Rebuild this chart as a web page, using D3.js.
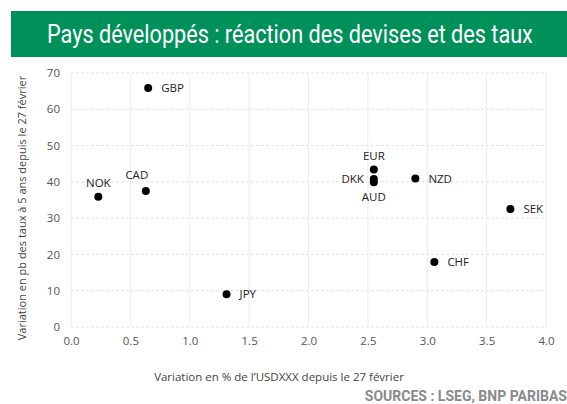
<!DOCTYPE html>
<html><head><meta charset="utf-8">
<script src="https://cdn.jsdelivr.net/npm/d3@7"></script>
<style>body{margin:0;background:#fff}svg{display:block}</style>
</head><body>
<script>
const currencies = ["GBP","NOK","CAD","JPY","EUR","DKK","AUD","NZD","SEK","CHF"];
const fxChange   = [0.65, 0.23, 0.63, 1.31, 2.55, 2.55, 2.55, 2.90, 3.70, 3.06];
const rateChange = [65.9, 35.9, 37.5, 9.0, 43.4, 40.8, 39.9, 40.9, 32.5, 17.9];
const labelPos   = ["right","top","topleft","right","top","left","bottom","right","right","right"];
const xTicks = [0,0.5,1,1.5,2,2.5,3,3.5,4];
const yTicks = [0,10,20,30,40,50,60,70];

const W=567,H=404;
const svg=d3.select("body").append("svg").attr("width",W).attr("height",H);
const font="'Open Sans', 'Noto Sans', sans-serif";

// banner
svg.append("rect").attr("x",11).attr("y",11).attr("width",W-11).attr("height",46).attr("fill","#00915a");
const title=svg.append("text").attr("x",0).attr("y",0).attr("fill","#fff")
  .style("font-family","'Roboto',sans-serif").style("font-size","25px")
  .text("Pays développés : réaction des devises et des taux");
const tw=title.node().getComputedTextLength();
const sx=tw>0?486/tw:1;
title.attr("transform",`translate(47,43) scale(${sx.toFixed(4)},1)`);

const x=d3.scaleLinear().domain([0,4]).range([71,546]);
const y=d3.scaleLinear().domain([0,70]).range([327,73]);

// grid
const g=svg.append("g");
g.selectAll(".hg").data(yTicks).join("line").attr("x1",x(0)).attr("x2",x(4))
  .attr("y1",d=>y(d)).attr("y2",d=>y(d)).attr("stroke","#e3e3e3").attr("stroke-dasharray","3,2");
g.selectAll(".vg").data(xTicks).join("line").attr("y1",y(0)).attr("y2",y(70))
  .attr("x1",d=>x(d)).attr("x2",d=>x(d)).attr("stroke","#ececec");

// axes labels
const xa=svg.append("g").attr("transform",`translate(0,${y(0)})`)
  .call(d3.axisBottom(x).tickValues(xTicks).tickFormat(d3.format(".1f")).tickSize(0).tickPadding(10));
const ya=svg.append("g").attr("transform",`translate(${x(0)},0)`)
  .call(d3.axisLeft(y).tickValues(yTicks).tickSize(0).tickPadding(11));
[xa,ya].forEach(a=>{a.select(".domain").remove();
  a.selectAll("text").style("font-family",font).style("font-size","11.5px").attr("fill","#555");});

// axis titles
svg.append("text").attr("x",279).attr("y",381).attr("text-anchor","middle")
  .style("font-family",font).style("font-size","11.5px").attr("fill","#444")
  .text("Variation en % de l\u2019USDXXX depuis le 27 février");
svg.append("text").attr("transform","translate(26,208) rotate(-90)").attr("text-anchor","middle")
  .style("font-family",font).style("font-size","11px").attr("fill","#444")
  .text("Variation en pb des taux à 5 ans depuis le 27 février");

// source
svg.append("text").attr("x",567).attr("y",401).attr("text-anchor","end")
  .style("font-family","'Roboto',sans-serif").style("font-size","14px").style("font-weight","bold")
  .attr("fill","#8a8a8a").text("SOURCES : LSEG, BNP PARIBAS");

// points
const data=currencies.map((c,i)=>({c,x:fxChange[i],y:rateChange[i],p:labelPos[i]}));
svg.selectAll("circle.pt").data(data).join("circle").attr("cx",d=>x(d.x)).attr("cy",d=>y(d.y))
  .attr("r",4).attr("fill","#000");
svg.selectAll("text.lb").data(data).join("text")
  .attr("x",d=>{const px=x(d.x);return d.p==="right"?px+13:d.p==="left"?px-10:d.p==="topleft"?px-9:px;})
  .attr("y",d=>{const py=y(d.y);return d.p==="top"?py-10:d.p==="topleft"?py-12:d.p==="bottom"?py+19:py+4;})
  .attr("text-anchor",d=>d.p==="right"?"start":d.p==="left"?"end":"middle")
  .style("font-family",font).style("font-size","11.5px").attr("fill","#222")
  .text(d=>d.c);
</script>
</body></html>
